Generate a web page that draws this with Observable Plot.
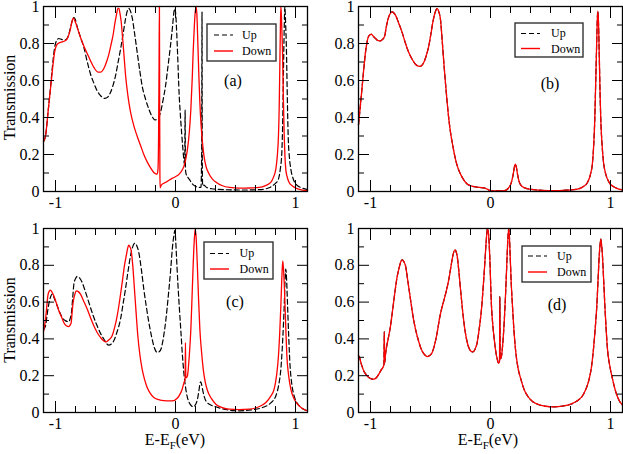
<!DOCTYPE html>
<html><head><meta charset="utf-8">
<script src="https://cdn.jsdelivr.net/npm/d3@7"></script>
<script src="https://cdn.jsdelivr.net/npm/@observablehq/plot@0.6"></script>
<style>
html,body{margin:0;padding:0;background:#fff;}
#root{position:relative;width:623px;height:454px;overflow:hidden;background:#fff;}
.panel{position:absolute;}
#overlay{position:absolute;left:0;top:0;pointer-events:none;}
</style></head><body><div id="root"></div>
<script>
// ---- axis ticks / labels ----
const xMajor = [-1, 0, 1];
const xMinor = [-1, -0.8333, -0.6667, -0.5, -0.3333, -0.1667, 0, 0.1667, 0.3333, 0.5, 0.6667, 0.8333, 1];
const yMajor = [0, 0.2, 0.4, 0.6, 0.8, 1];
const yMinor = [0.1, 0.3, 0.5, 0.7, 0.9];
const xTickLabels = ["-1", "0", "1"];
const yTickLabels = ["0", "0.2", "0.4", "0.6", "0.8", "1"];
const seriesNames = ["Up", "Down"];
const panelNames = ["(a)", "(b)", "(c)", "(d)"];

// ---- panel (a) ----
const aUp = [[-1.1,0.27],[-1.083,0.30],[-1.062,0.43],[-1.042,0.56],[-1.025,0.68],[-1.008,0.775],[-0.992,0.815],[-0.972,0.827],[-0.95,0.822],[-0.925,0.818],[-0.903,0.828],[-0.885,0.86],[-0.872,0.895],[-0.86,0.925],[-0.847,0.94],[-0.835,0.93],[-0.819,0.89],[-0.79,0.83],[-0.764,0.78],[-0.735,0.70],[-0.708,0.634],[-0.68,0.585],[-0.653,0.544],[-0.62,0.515],[-0.589,0.503],[-0.565,0.51],[-0.542,0.535],[-0.52,0.575],[-0.5,0.625],[-0.478,0.70],[-0.458,0.769],[-0.437,0.85],[-0.417,0.931],[-0.402,0.975],[-0.389,0.99],[-0.375,0.975],[-0.361,0.94],[-0.34,0.85],[-0.319,0.751],[-0.298,0.655],[-0.278,0.571],[-0.25,0.50],[-0.222,0.445],[-0.195,0.405],[-0.172,0.387],[-0.15,0.39],[-0.125,0.427],[-0.105,0.49],[-0.083,0.571],[-0.062,0.68],[-0.042,0.787],[-0.025,0.89],[-0.012,0.975],[-0.005,0.99],[0.003,0.95],[0.01,0.86],[0.017,0.751],[0.031,0.517],[0.042,0.40],[0.053,0.301],[0.063,0.22],[0.072,0.157],[0.077,0.14],[0.08,0.44],[0.083,0.12],[0.088,0.095],[0.1,0.08],[0.114,0.067],[0.142,0.04],[0.169,0.027],[0.197,0.022],[0.212,0.022],[0.218,0.2],[0.221,0.97],[0.223,0.2],[0.226,0.03],[0.235,0.035],[0.26,0.022],[0.3,0.015],[0.4,0.01],[0.55,0.008],[0.7,0.01],[0.78,0.02],[0.808,0.031],[0.835,0.045],[0.858,0.067],[0.873,0.12],[0.886,0.21],[0.894,0.40],[0.9,0.66],[0.906,0.88],[0.911,1.0],[0.917,0.92],[0.925,0.751],[0.932,0.50],[0.939,0.301],[0.95,0.18],[0.961,0.121],[0.98,0.07],[1.003,0.04],[1.05,0.02],[1.1,0.01]];
const aDown = [[-1.1,0.27],[-1.083,0.30],[-1.062,0.43],[-1.042,0.553],[-1.025,0.66],[-1.008,0.751],[-0.986,0.796],[-0.965,0.805],[-0.944,0.809],[-0.92,0.815],[-0.903,0.825],[-0.885,0.855],[-0.875,0.88],[-0.862,0.92],[-0.853,0.937],[-0.84,0.925],[-0.819,0.886],[-0.79,0.83],[-0.764,0.787],[-0.735,0.745],[-0.708,0.706],[-0.675,0.665],[-0.645,0.645],[-0.625,0.645],[-0.597,0.665],[-0.575,0.70],[-0.556,0.74],[-0.535,0.80],[-0.519,0.85],[-0.505,0.91],[-0.492,0.955],[-0.48,0.99],[-0.472,0.99],[-0.462,0.96],[-0.453,0.92],[-0.442,0.84],[-0.431,0.751],[-0.415,0.62],[-0.397,0.52],[-0.375,0.43],[-0.347,0.355],[-0.32,0.30],[-0.292,0.25],[-0.264,0.20],[-0.236,0.16],[-0.21,0.13],[-0.181,0.103],[-0.165,0.095],[-0.153,0.094],[-0.146,0.12],[-0.141,0.3],[-0.137,0.7],[-0.134,1.0],[-0.132,0.5],[-0.13,0.1],[-0.128,0.02],[-0.122,0.03],[-0.11,0.04],[-0.08,0.05],[-0.05,0.062],[-0.025,0.072],[0,0.08],[0.031,0.094],[0.055,0.115],[0.072,0.14],[0.09,0.19],[0.1,0.23],[0.115,0.32],[0.128,0.445],[0.14,0.62],[0.147,0.751],[0.156,0.88],[0.164,0.968],[0.171,1.0],[0.178,0.96],[0.186,0.805],[0.195,0.62],[0.203,0.481],[0.213,0.36],[0.225,0.265],[0.238,0.19],[0.253,0.139],[0.28,0.095],[0.308,0.067],[0.35,0.045],[0.392,0.031],[0.45,0.022],[0.53,0.018],[0.62,0.019],[0.697,0.022],[0.75,0.032],[0.794,0.049],[0.815,0.075],[0.836,0.121],[0.848,0.19],[0.858,0.301],[0.864,0.45],[0.869,0.661],[0.874,0.88],[0.878,1.0],[0.883,0.94],[0.888,0.84],[0.892,0.751],[0.899,0.50],[0.906,0.301],[0.912,0.19],[0.919,0.121],[0.93,0.08],[0.947,0.049],[0.975,0.03],[1.003,0.018],[1.05,0.009],[1.1,0.004]];

// ---- panel (b): up and down coincide ----
const bUp = [[-1.1,0.36],[-1.085,0.46],[-1.069,0.571],[-1.055,0.67],[-1.042,0.751],[-1.028,0.81],[-1.014,0.841],[-0.992,0.85],[-0.975,0.838],[-0.958,0.827],[-0.935,0.815],[-0.917,0.814],[-0.9,0.822],[-0.881,0.841],[-0.871,0.88],[-0.861,0.913],[-0.85,0.94],[-0.839,0.958],[-0.819,0.971],[-0.805,0.965],[-0.792,0.953],[-0.765,0.91],[-0.736,0.859],[-0.708,0.80],[-0.681,0.751],[-0.653,0.715],[-0.625,0.688],[-0.592,0.676],[-0.575,0.68],[-0.556,0.697],[-0.535,0.735],[-0.514,0.787],[-0.497,0.85],[-0.481,0.913],[-0.463,0.965],[-0.444,0.989],[-0.43,0.97],[-0.417,0.931],[-0.403,0.82],[-0.389,0.697],[-0.375,0.585],[-0.361,0.481],[-0.347,0.39],[-0.333,0.319],[-0.312,0.24],[-0.292,0.175],[-0.27,0.125],[-0.25,0.094],[-0.222,0.062],[-0.194,0.04],[-0.16,0.03],[-0.125,0.025],[-0.09,0.022],[-0.056,0.02],[-0.035,0.015],[-0.014,0.008],[0.003,0.003],[0.06,0.003],[0.114,0.004],[0.145,0.015],[0.169,0.04],[0.182,0.07],[0.192,0.103],[0.2,0.135],[0.208,0.148],[0.216,0.13],[0.225,0.094],[0.238,0.055],[0.253,0.034],[0.29,0.018],[0.336,0.012],[0.43,0.006],[0.53,0.004],[0.63,0.007],[0.725,0.013],[0.77,0.025],[0.808,0.049],[0.832,0.09],[0.85,0.157],[0.86,0.25],[0.869,0.391],[0.876,0.57],[0.883,0.751],[0.889,0.91],[0.894,0.975],[0.899,0.93],[0.906,0.751],[0.912,0.56],[0.919,0.391],[0.93,0.25],[0.942,0.157],[0.96,0.095],[0.989,0.049],[1.02,0.028],[1.058,0.016],[1.1,0.009]];
const bDown = bUp;

// ---- panel (c) ----
const cUp = [[-1.1,0.45],[-1.083,0.471],[-1.07,0.53],[-1.056,0.589],[-1.04,0.63],[-1.028,0.643],[-1.01,0.62],[-0.986,0.58],[-0.965,0.545],[-0.944,0.516],[-0.915,0.498],[-0.889,0.493],[-0.878,0.51],[-0.867,0.543],[-0.857,0.62],[-0.847,0.697],[-0.835,0.725],[-0.819,0.739],[-0.8,0.732],[-0.778,0.707],[-0.75,0.655],[-0.722,0.598],[-0.688,0.53],[-0.653,0.471],[-0.625,0.43],[-0.597,0.399],[-0.575,0.375],[-0.556,0.366],[-0.535,0.372],[-0.514,0.39],[-0.486,0.44],[-0.458,0.507],[-0.437,0.59],[-0.417,0.67],[-0.395,0.77],[-0.375,0.851],[-0.357,0.9],[-0.339,0.92],[-0.322,0.905],[-0.306,0.87],[-0.285,0.78],[-0.264,0.67],[-0.243,0.575],[-0.222,0.489],[-0.2,0.415],[-0.181,0.362],[-0.165,0.335],[-0.153,0.326],[-0.136,0.33],[-0.119,0.348],[-0.1,0.41],[-0.083,0.489],[-0.062,0.62],[-0.042,0.761],[-0.025,0.9],[-0.014,0.96],[-0.005,0.99],[0.002,0.93],[0.008,0.851],[0.02,0.70],[0.031,0.58],[0.045,0.44],[0.058,0.308],[0.072,0.2],[0.086,0.127],[0.1,0.08],[0.114,0.054],[0.13,0.038],[0.147,0.031],[0.162,0.038],[0.175,0.054],[0.187,0.085],[0.197,0.127],[0.204,0.158],[0.211,0.167],[0.218,0.15],[0.225,0.127],[0.238,0.09],[0.253,0.063],[0.29,0.042],[0.336,0.031],[0.43,0.015],[0.53,0.009],[0.63,0.014],[0.725,0.027],[0.79,0.05],[0.836,0.09],[0.86,0.15],[0.878,0.236],[0.893,0.39],[0.906,0.58],[0.913,0.72],[0.919,0.779],[0.926,0.72],[0.933,0.598],[0.943,0.42],[0.953,0.272],[0.968,0.16],[0.989,0.09],[1.031,0.036],[1.06,0.02],[1.1,0.009]];
const cDown = [[-1.1,0.44],[-1.083,0.507],[-1.072,0.58],[-1.064,0.634],[-1.052,0.66],[-1.042,0.665],[-1.03,0.655],[-1.014,0.634],[-0.993,0.595],[-0.972,0.553],[-0.95,0.52],[-0.931,0.489],[-0.91,0.472],[-0.889,0.467],[-0.878,0.475],[-0.869,0.489],[-0.862,0.54],[-0.853,0.598],[-0.84,0.64],[-0.825,0.661],[-0.81,0.657],[-0.792,0.643],[-0.765,0.605],[-0.736,0.562],[-0.708,0.515],[-0.681,0.471],[-0.653,0.435],[-0.625,0.408],[-0.6,0.39],[-0.578,0.384],[-0.555,0.395],[-0.528,0.417],[-0.508,0.46],[-0.486,0.525],[-0.465,0.61],[-0.444,0.707],[-0.425,0.80],[-0.408,0.861],[-0.398,0.895],[-0.389,0.909],[-0.379,0.9],[-0.369,0.879],[-0.355,0.79],[-0.342,0.67],[-0.328,0.54],[-0.314,0.417],[-0.296,0.31],[-0.278,0.236],[-0.258,0.18],[-0.236,0.136],[-0.21,0.104],[-0.181,0.082],[-0.14,0.07],[-0.097,0.064],[-0.05,0.063],[-0.014,0.064],[0.01,0.075],[0.031,0.092],[0.055,0.125],[0.072,0.165],[0.08,0.18],[0.083,0.38],[0.086,0.19],[0.093,0.19],[0.1,0.2],[0.115,0.31],[0.128,0.453],[0.138,0.63],[0.147,0.797],[0.156,0.93],[0.164,0.996],[0.172,0.95],[0.181,0.815],[0.192,0.62],[0.203,0.453],[0.217,0.33],[0.231,0.236],[0.248,0.165],[0.267,0.118],[0.3,0.075],[0.336,0.045],[0.39,0.027],[0.447,0.018],[0.53,0.016],[0.614,0.018],[0.69,0.03],[0.753,0.054],[0.79,0.085],[0.822,0.127],[0.842,0.2],[0.858,0.308],[0.869,0.44],[0.878,0.58],[0.886,0.73],[0.894,0.824],[0.901,0.77],[0.908,0.67],[0.918,0.48],[0.928,0.308],[0.943,0.2],[0.961,0.127],[0.988,0.075],[1.017,0.045],[1.06,0.02],[1.1,0.009]];

// ---- panel (d): up and down coincide ----
const dUp = [[-1.1,0.31],[-1.092,0.299],[-1.075,0.26],[-1.056,0.226],[-1.035,0.205],[-1.014,0.19],[-0.993,0.183],[-0.972,0.181],[-0.95,0.19],[-0.931,0.208],[-0.912,0.23],[-0.897,0.245],[-0.888,0.26],[-0.885,0.44],[-0.882,0.27],[-0.876,0.31],[-0.869,0.344],[-0.85,0.41],[-0.833,0.471],[-0.815,0.56],[-0.797,0.652],[-0.78,0.73],[-0.764,0.779],[-0.75,0.815],[-0.736,0.83],[-0.722,0.82],[-0.708,0.797],[-0.69,0.72],[-0.667,0.616],[-0.645,0.52],[-0.625,0.453],[-0.6,0.39],[-0.575,0.341],[-0.55,0.315],[-0.528,0.304],[-0.507,0.31],[-0.486,0.326],[-0.465,0.37],[-0.444,0.435],[-0.425,0.51],[-0.408,0.562],[-0.39,0.605],[-0.375,0.643],[-0.358,0.69],[-0.342,0.743],[-0.328,0.80],[-0.314,0.851],[-0.297,0.884],[-0.287,0.875],[-0.278,0.851],[-0.264,0.77],[-0.25,0.67],[-0.232,0.55],[-0.214,0.453],[-0.197,0.39],[-0.181,0.353],[-0.165,0.334],[-0.147,0.329],[-0.128,0.345],[-0.111,0.38],[-0.093,0.46],[-0.075,0.562],[-0.06,0.69],[-0.047,0.815],[-0.037,0.92],[-0.025,1.0],[-0.015,0.96],[-0.007,0.86],[0.008,0.58],[0.02,0.47],[0.031,0.399],[0.042,0.34],[0.053,0.299],[0.062,0.275],[0.069,0.268],[0.075,0.275],[0.078,0.63],[0.081,0.29],[0.092,0.308],[0.103,0.38],[0.114,0.489],[0.124,0.62],[0.133,0.761],[0.143,0.92],[0.152,1.0],[0.158,0.95],[0.164,0.851],[0.173,0.70],[0.183,0.58],[0.196,0.44],[0.211,0.326],[0.23,0.24],[0.253,0.181],[0.28,0.125],[0.308,0.091],[0.35,0.06],[0.392,0.045],[0.46,0.034],[0.53,0.031],[0.6,0.035],[0.669,0.045],[0.72,0.062],[0.767,0.091],[0.797,0.13],[0.822,0.181],[0.842,0.25],[0.858,0.344],[0.873,0.46],[0.886,0.58],[0.897,0.73],[0.906,0.851],[0.913,0.91],[0.919,0.942],[0.926,0.91],[0.933,0.851],[0.943,0.72],[0.953,0.58],[0.964,0.45],[0.975,0.344],[0.995,0.25],[1.017,0.181],[1.045,0.11],[1.072,0.065],[1.1,0.04]];
const dDown = dUp;

// pick the first installed serif face (measured against a monospace fallback)
function pickFont(cands) {
  const ctx = document.createElement("canvas").getContext("2d");
  const sample = "Transmission 0.123456789 EeVUpDown";
  ctx.font = "40px monospace"; const base = ctx.measureText(sample).width;
  ctx.font = "40px sans-serif"; const base2 = ctx.measureText(sample).width;
  for (const c of cands) {
    ctx.font = `40px "${c}", monospace`; const w1 = ctx.measureText(sample).width;
    ctx.font = `40px "${c}", sans-serif`; const w2 = ctx.measureText(sample).width;
    if (w1 !== base || w2 !== base2) return `"${c}", serif`;
  }
  return "serif";
}
const FONT = pickFont(["Liberation Serif", "Times New Roman", "Times", "Tinos", "Nimbus Roman", "Nimbus Roman No9 L", "FreeSerif", "DejaVu Serif", "Noto Serif", "Bitstream Vera Serif"]);
const fmtX = d => xTickLabels[xMajor.indexOf(d)];
const fmtY = d => yTickLabels[yMajor.indexOf(d)];

function panel(up, down, {width, height, ml, mr, mt, mb}) {
  return Plot.plot({
    width, height,
    marginLeft: ml, marginRight: mr, marginTop: mt, marginBottom: mb,
    x: {domain: [-1.1, 1.1]},
    y: {domain: [0, 1]},
    style: {fontFamily: FONT, fontSize: "16px", color: "#000", background: "transparent", overflow: "visible"},
    marks: [
      Plot.line(up, {x: d => d[0], y: d => d[1], stroke: "#000", strokeWidth: 1.2, strokeDasharray: "5,3", curve: "monotone-x"}),
      Plot.line(down, {x: d => d[0], y: d => d[1], stroke: "#ff0000", strokeWidth: 1.3, curve: "monotone-x"}),
      Plot.axisX(xMinor, {anchor: "bottom", tickSize: -6, fill: "none", label: null}),
      Plot.axisX(xMinor, {anchor: "top", tickSize: -6, fill: "none", label: null}),
      Plot.axisX(xMajor, {anchor: "bottom", tickSize: -11, fill: "none", label: null}),
      Plot.axisX(xMajor, {anchor: "top", tickSize: -11, fill: "none", label: null}),
      Plot.axisY(yMinor, {anchor: "left", tickSize: -6, fill: "none", label: null}),
      Plot.axisY(yMinor, {anchor: "right", tickSize: -6, fill: "none", label: null}),
      Plot.axisY(yMajor, {anchor: "left", tickSize: -11, fill: "none", label: null}),
      Plot.axisY(yMajor, {anchor: "right", tickSize: -11, fill: "none", label: null}),
      Plot.axisX(xMajor, {anchor: "bottom", tickSize: 0, tickPadding: 5, tickFormat: fmtX, label: null, fontFamily: FONT}),
      Plot.axisY(yMajor, {anchor: "left", tickSize: 0, tickPadding: 4, tickFormat: fmtY, label: null, fontFamily: FONT}),
      Plot.frame({stroke: "#000", strokeWidth: 1.3})
    ]
  });
}

const root = document.getElementById("root");
function place(el, left, top, w, h) {
  const div = document.createElement("div");
  div.className = "panel";
  div.style.left = left + "px"; div.style.top = top + "px";
  div.style.width = w + "px"; div.style.height = h + "px";
  div.appendChild(el);
  root.appendChild(div);
}
place(panel(aUp, aDown, {width: 312, height: 222, ml: 43, mr: 5, mt: 6, mb: 31}), 0, 0, 312, 222);
place(panel(bUp, bDown, {width: 311, height: 222, ml: 46, mr: 1, mt: 6, mb: 31}), 312, 0, 311, 222);
place(panel(cUp, cDown, {width: 312, height: 232, ml: 43, mr: 5, mt: 6, mb: 42}), 0, 222, 312, 232);
place(panel(dUp, dDown, {width: 311, height: 232, ml: 46, mr: 1, mt: 6, mb: 42}), 312, 222, 311, 232);

// ---- overlay: legends, panel letters, axis titles ----
const legends = [
  {x: 207, y: 24, w: 69, h: 37, lx: 214, tx: 242, y1: 35, y2: 51},
  {x: 515, y: 23, w: 68, h: 34, lx: 521, tx: 551, y1: 33.5, y2: 48.5},
  {x: 204, y: 242, w: 69, h: 37, lx: 210, tx: 239.5, y1: 253.5, y2: 269},
  {x: 522, y: 246, w: 69, h: 36, lx: 528, tx: 557, y1: 256, y2: 272}
];
const letters = [{x: 233, y: 85.5}, {x: 550, y: 89}, {x: 235, y: 306.5}, {x: 557, y: 310}];
const F = `font-family='${FONT}'`;
let s = `<svg id="overlay" width="623" height="454" xmlns="http://www.w3.org/2000/svg">`;
legends.forEach(L => {
  s += `<rect x="${L.x}" y="${L.y}" width="${L.w}" height="${L.h}" fill="#fff" stroke="#333" stroke-width="1.4"/>`;
  s += `<line x1="${L.lx}" x2="${L.lx + 19}" y1="${L.y1}" y2="${L.y1}" stroke="#000" stroke-width="1.2" stroke-dasharray="5,3"/>`;
  s += `<line x1="${L.lx}" x2="${L.lx + 19}" y1="${L.y2}" y2="${L.y2}" stroke="#ff0000" stroke-width="1.4"/>`;
  s += `<text ${F} x="${L.tx}" y="${L.y1 + 3.8}" font-size="12">${seriesNames[0]}</text>`;
  s += `<text ${F} x="${L.tx}" y="${L.y2 + 4}" font-size="12">${seriesNames[1]}</text>`;
});
letters.forEach((p, i) => {
  s += `<text ${F} x="${p.x}" y="${p.y}" font-size="16" text-anchor="middle">${panelNames[i]}</text>`;
});
s += `<text ${F} transform="translate(14.5,97.5) rotate(-90)" font-size="16" text-anchor="middle">Transmission</text>`;
s += `<text ${F} transform="translate(14.5,320) rotate(-90)" font-size="16" text-anchor="middle">Transmission</text>`;
[175, 488].forEach(cx => {
  s += `<text ${F} x="${cx}" y="445" font-size="16" text-anchor="middle">E-E<tspan dy="4" font-size="11">F</tspan><tspan dy="-4">(eV)</tspan></text>`;
});
s += `</svg>`;
root.insertAdjacentHTML("beforeend", s);
</script></body></html>
